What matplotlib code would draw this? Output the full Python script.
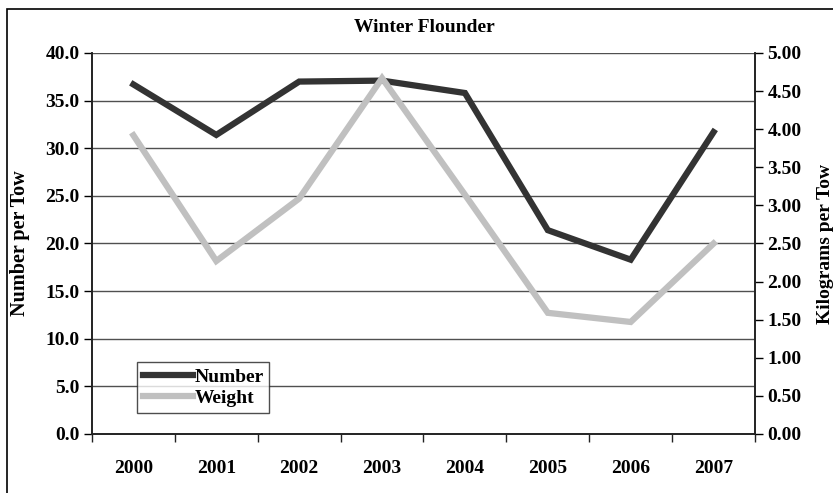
import numpy as np
import matplotlib
matplotlib.use('Agg')
import matplotlib.pyplot as plt
from matplotlib.patches import Rectangle

plt.rcParams['font.family'] = 'Liberation Serif'
plt.rcParams['font.weight'] = 'bold'

years = ['2000', '2001', '2002', '2003', '2004', '2005', '2006', '2007']
number = [36.7, 31.4, 37.0, 37.1, 35.8, 21.4, 18.3, 31.7]
weight = [3.92, 2.27, 3.09, 4.67, 3.14, 1.59, 1.47, 2.50]

fig = plt.figure(figsize=(8.33, 4.93), dpi=100)
ax = fig.add_axes([0.1104, 0.1197, 0.7960, 0.7728])
ax2 = ax.twinx()

x = np.arange(len(years))
l1, = ax.plot(x, number, color='#333333', lw=4.5, solid_joinstyle='miter', label='Number', zorder=3)
l2, = ax2.plot(x, weight, color='#c0c0c0', lw=4.5, solid_joinstyle='miter', label='Weight', zorder=3)

ax.set_xlim(-0.5, len(years) - 0.5)
ax.set_ylim(0, 40)
ax2.set_ylim(0, 5)

ax.set_yticks(np.arange(0, 40.1, 5))
ax.set_yticklabels(['%.1f' % v for v in np.arange(0, 40.1, 5)])
ax2.set_yticks(np.arange(0, 5.01, 0.5))
ax2.set_yticklabels(['%.2f' % v for v in np.arange(0, 5.01, 0.5)])

# category labels centred, tick marks on boundaries
ax.set_xticks(np.arange(-0.5, len(years), 1))
ax.set_xticklabels([])
ax.set_xticks(x, minor=True)
ax.set_xticklabels(years, minor=True)
ax.tick_params(axis='x', which='minor', length=0, pad=19, labelsize=14)
ax.tick_params(axis='x', which='major', length=6, width=1, color='#222222', direction='out')
ax.tick_params(axis='y', length=6, width=1, labelsize=14, pad=3)
ax2.tick_params(axis='y', length=6, width=1, labelsize=14, pad=3)

for yv in np.arange(5, 40.1, 5):
    ax.axhline(yv, color='#505050', lw=1, zorder=1)

for a in (ax, ax2):
    a.spines['top'].set_visible(False)
    for s in ('left', 'right', 'bottom'):
        a.spines[s].set_color('#222222')
        a.spines[s].set_linewidth(1.2)

ax.set_ylabel('Number per Tow', fontsize=14.5, fontweight='bold')
ax.yaxis.set_label_coords(-0.0935, 0.5)
ax2.set_ylabel('Kilograms per Tow', fontsize=14, fontweight='bold')
ax2.yaxis.set_label_coords(1.0935, 0.5)
fig.text(0.51, 0.945, 'Winter Flounder', ha='center', va='center', fontsize=14, fontweight='bold')

leg = ax.legend([l1, l2], ['Number', 'Weight'], loc='lower left',
                bbox_to_anchor=(0.068, 0.055), fancybox=False, frameon=True,
                edgecolor='#222222', fontsize=14, handlelength=2.6, handletextpad=0.05,
                borderpad=0.3, labelspacing=0.2, borderaxespad=0)
leg.get_frame().set_linewidth(1)
leg.set_zorder(5)

fig.patches.append(Rectangle((7 / 833, -0.1), 1.2, 1 - 9 / 493 + 0.1, transform=fig.transFigure,
                             fill=False, edgecolor='black', lw=1.2))

fig.savefig('out.png', dpi=100)
